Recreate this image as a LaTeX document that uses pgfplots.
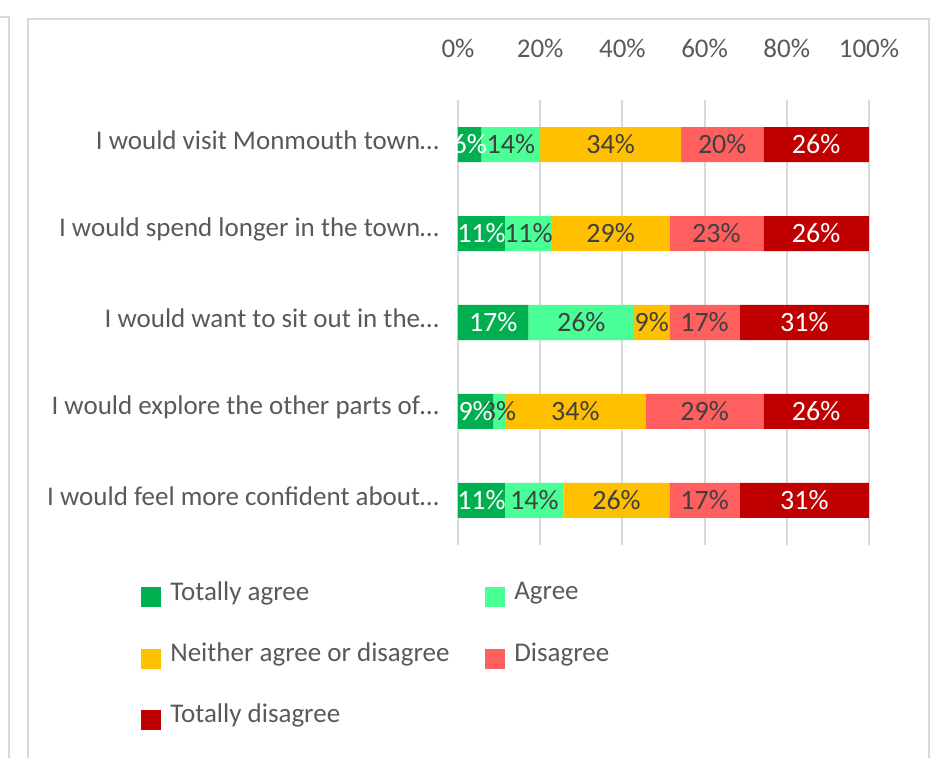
\documentclass[border=0pt]{standalone}
\usepackage{pgfplots}
\pgfplotsset{compat=1.18}
\usepackage{pgfplotstable}
\usepackage{fontspec}
\setmainfont{Carlito}
\definecolor{cTA}{HTML}{00B050}
\definecolor{cA}{HTML}{4AFF96}
\definecolor{cN}{HTML}{FFC000}
\definecolor{cD}{HTML}{FF5F5F}
\definecolor{cTD}{HTML}{C00000}
\definecolor{txt}{HTML}{595959}
\definecolor{vtxt}{HTML}{404040}
\definecolor{frame}{HTML}{D9D9D9}

\pgfplotstableread{
y v
4 5.71
3 11.43
2 17.14
1 8.57
0 11.43
}\tTA
\pgfplotstableread{
y v
4 14.29
3 11.43
2 25.71
1 2.86
0 14.29
}\tA
\pgfplotstableread{
y v
4 34.29
3 28.57
2 8.57
1 34.29
0 25.71
}\tN
\pgfplotstableread{
y v
4 20.00
3 22.86
2 17.14
1 28.57
0 17.14
}\tD
\pgfplotstableread{
y v
4 25.71
3 25.71
2 31.43
1 25.71
0 31.43
}\tTD

\begin{document}
\begin{tikzpicture}[font=\fontsize{13.5}{16}\selectfont]
\path[use as bounding box] (0,0) rectangle (467pt,-379pt);
\draw[frame, line width=1pt] (14pt,-420pt) -- (14pt,-9.5pt) -- (464.5pt,-9.5pt) -- (464.5pt,-420pt);
\draw[frame, line width=1pt] (-2pt,-8.5pt) -- (4.5pt,-8.5pt) -- (4.5pt,-420pt);
\begin{axis}[
  at={(229pt,-272.5pt)}, anchor=south west,
  scale only axis, width=205.5pt, height=222.5pt,
  xbar stacked, bar width=17.5pt,
  xmin=0, xmax=100, ymin=-0.5, ymax=4.5,
  axis line style={draw=none},
  major tick length=0pt,
  xmajorgrids, grid style={frame, line width=1pt},
  xtick={0,20,...,100},
  xticklabel pos=upper,
  xticklabel={\pgfmathprintnumber{\tick}\%},
  /pgf/number format/assume math mode=true,
  xticklabel style={text=txt, anchor=base, yshift=21.5pt},
  ytick={0,1,2,3,4},
  yticklabels={I would feel more confident about…, I would explore the other parts of…, I would want to sit out in the…, I would spend longer in the town…, I would visit Monmouth town…},
  yticklabel style={text=txt, anchor=east, xshift=-6pt, yshift=2pt},
  visualization depends on={rawx \as \val},
  nodes near coords={\pgfmathprintnumber[fixed,precision=0]{\val}\%},
  every node near coord/.append style={anchor=center, inner sep=0pt, font=\fontsize{14}{16}\selectfont},
  legend columns=2,
  legend style={draw=none, fill=none, at={(axis description cs:-0.786,-0.063)}, anchor=north west,
    text=txt, row sep=15.75pt, /tikz/every even column/.append style={column sep=0pt}},
  legend cell align=left,
  legend image code/.code={\fill[#1] (0pt,-7.5pt) rectangle (10pt,2.5pt); \path (12.5pt,0pt);},
]
\addplot[fill=cTA, draw=none, every node near coord/.append style={text=white}] table[x=v,y=y] {\tTA};
\addplot[fill=cA, draw=none, every node near coord/.append style={text=vtxt}] table[x=v,y=y] {\tA};
\addplot[fill=cN, draw=none, every node near coord/.append style={text=vtxt}] table[x=v,y=y] {\tN};
\addplot[fill=cD, draw=none, every node near coord/.append style={text=vtxt}] table[x=v,y=y] {\tD};
\addplot[fill=cTD, draw=none, every node near coord/.append style={text=white}] table[x=v,y=y] {\tTD};
\legend{\makebox[155.5pt][l]{Totally agree}, Agree, \makebox[155.5pt][l]{Neither agree or disagree}, Disagree, Totally disagree}
\end{axis}
\end{tikzpicture}
\end{document}
